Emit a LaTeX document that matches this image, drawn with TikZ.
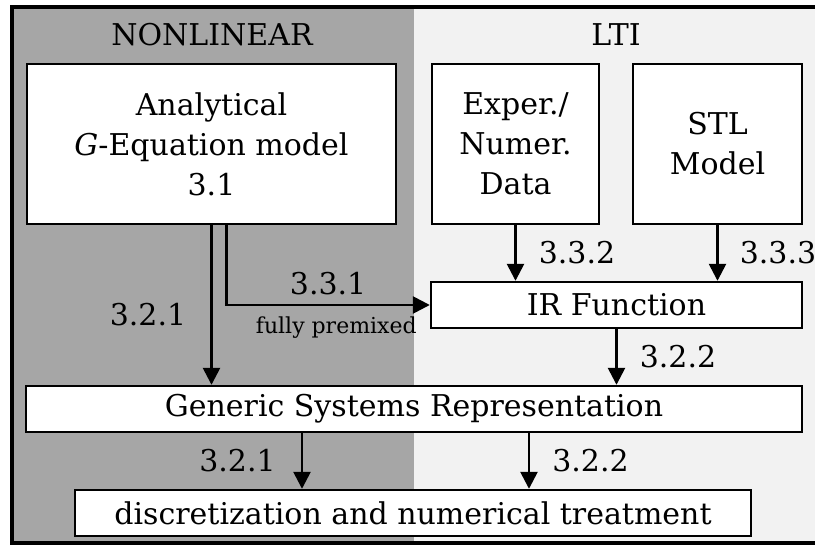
\documentclass[tikz,border=0pt]{standalone}
\usepackage{fontspec}
\setmainfont{DejaVu Serif}
\usepackage{tikz}
\usetikzlibrary{arrows.meta}
\usetikzlibrary{positioning}
\definecolor{nlgray}{RGB}{166,166,166}
\definecolor{ltigray}{RGB}{242,242,242}

\begin{document}
\begin{tikzpicture}[x=0.5pt,y=-0.5pt,font=\fontsize{15}{20}\selectfont,
  block/.style={draw,fill=white,line width=1.2pt,inner sep=0pt,align=center},
  arr/.style={-{Triangle[length=8.5pt,width=8.5pt]},line width=1.3pt},
  num/.style={inner sep=0pt}]
\useasboundingbox (0,0) rectangle (815,545);
% the two domains and the frame
\fill[nlgray] (11.5,7) rectangle (414,543);
\fill[ltigray] (414,7) rectangle (900,543);
\draw[line width=2pt] (900,7) -- (11.5,7) -- (11.5,543) -- (900,543);
\node (nl) at (212,35) {NONLINEAR};
\node (lti) at (616,35) {LTI};

\node (ana)[block, minimum width=184.5pt, minimum height=80pt] at (211.5,144) {Analytical\\\textit{G}-Equation model\\3.1};
\node (exp)[block, minimum width=83.5pt, minimum height=80pt] at (515.5,144) {Exper./\\Numer.\\Data};
\node (stl)[block, minimum width=84.5pt, minimum height=80pt] at (717.5,144) {STL\\Model};
\node (ir)[block, minimum width=185.5pt, minimum height=23pt] at (616.5,305) {IR Function};
\node (gsr)[block, minimum width=388pt, minimum height=23pt] at (414,409) {Generic Systems Representation};
\node (disc)[block, minimum width=338pt, minimum height=23pt] at (413,513) {discretization and numerical treatment};

\draw[arr] (exp.south) -- (exp.south |- ir.north) node[num, midway, right=11pt] {3.3.2};
\draw[arr] (stl.south) -- (stl.south |- ir.north) node[num, midway, right=10.5pt] {3.3.3};
\draw[arr] (ir.south) -- (ir.south |- gsr.north) node[num, midway, right=11pt] {3.2.2};
\draw[arr] (ana.south) -- (ana.south |- gsr.north) node[num, pos=0.56, left=12pt] {3.2.1};
\draw[arr] ([xshift=7.5pt]ana.south) |- (ir.west)
  node[num, pos=0.75, above=4.5pt] {3.3.1}
  node[num, pos=0.77, below=5pt, font=\fontsize{11}{13}\selectfont] {fully premixed};
\draw[arr] ([xshift=-56pt]gsr.south) -- ([xshift=-56pt]gsr.south |- disc.north) node[num, midway, left=12.5pt] {3.2.1};
\draw[arr] ([xshift=57.5pt]gsr.south) -- ([xshift=57.5pt]gsr.south |- disc.north) node[num, midway, right=11pt] {3.2.2};
\end{tikzpicture}
\end{document}
